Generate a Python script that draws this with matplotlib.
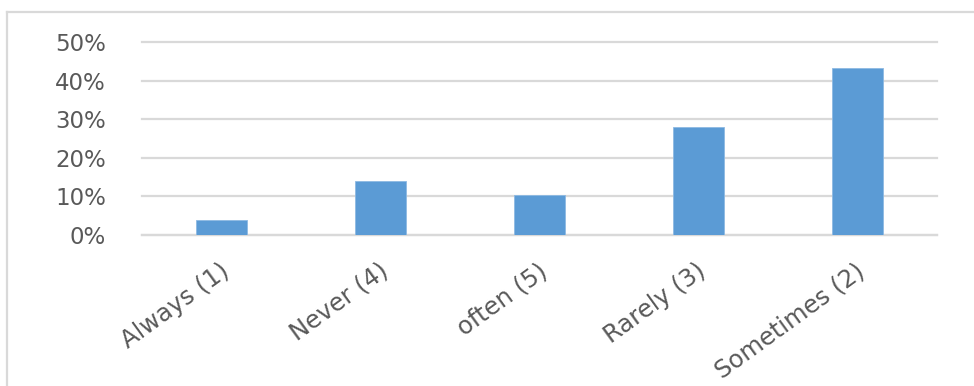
import matplotlib
matplotlib.use("Agg")
import matplotlib.pyplot as plt
from matplotlib.lines import Line2D
from matplotlib.ticker import PercentFormatter
from matplotlib.transforms import ScaledTranslation

# Response shares per frequency category
categories = ["Always (1)", "Never (4)", "often (5)", "Rarely (3)", "Sometimes (2)"]
shares = [0.039, 0.141, 0.104, 0.281, 0.434]
y_ticks = [0.0, 0.1, 0.2, 0.3, 0.4, 0.5]

BAR_COLOR = "#5B9BD5"
GRID_COLOR = "#D9D9D9"
TEXT_COLOR = "#595959"

fig = plt.figure(figsize=(9.74, 3.86), dpi=100)
fig.patch.set_facecolor("white")
ax = fig.add_axes([0.1458, 0.391, 0.8162, 0.500])

x = list(range(len(categories)))
ax.bar(x, shares, width=0.32, color=BAR_COLOR, edgecolor="#8DB9E3",
       linewidth=0.6, zorder=3)

ax.set_xlim(-0.5, len(categories) - 0.5)
ax.set_ylim(0, 0.5)
ax.set_yticks(y_ticks)
ax.yaxis.set_major_formatter(PercentFormatter(xmax=1, decimals=0))
ax.grid(axis="y", color=GRID_COLOR, linewidth=1.6, zorder=0)
for gl in ax.get_ygridlines():
    gl.set_clip_on(False)
ax.set_axisbelow(True)

for side in ["top", "right", "left"]:
    ax.spines[side].set_visible(False)
ax.spines["bottom"].set_color(GRID_COLOR)
ax.spines["bottom"].set_linewidth(1.6)
ax.spines["bottom"].set_zorder(1)

ax.tick_params(axis="y", length=0, pad=26, labelsize=16.5, labelcolor=TEXT_COLOR)
ax.tick_params(axis="x", length=0, pad=24, labelsize=17.5, labelcolor=TEXT_COLOR)
ax.set_xticks(x)
ax.set_xticklabels(categories, rotation=36, ha="right", va="center",
                   rotation_mode="anchor")
shift = ScaledTranslation(0.05, 0, fig.dpi_scale_trans)
for lbl in ax.get_xticklabels():
    lbl.set_transform(lbl.get_transform() + shift)

# Chart frame: light top and left edges
fig.add_artist(Line2D([7 / 974, 1.0], [1 - 12 / 386, 1 - 12 / 386],
                      transform=fig.transFigure, color=GRID_COLOR, linewidth=1.6))
fig.add_artist(Line2D([7 / 974, 7 / 974], [0.0, 1 - 12 / 386],
                      transform=fig.transFigure, color=GRID_COLOR, linewidth=1.6))

fig.savefig("out.png", dpi=100, facecolor="white")
